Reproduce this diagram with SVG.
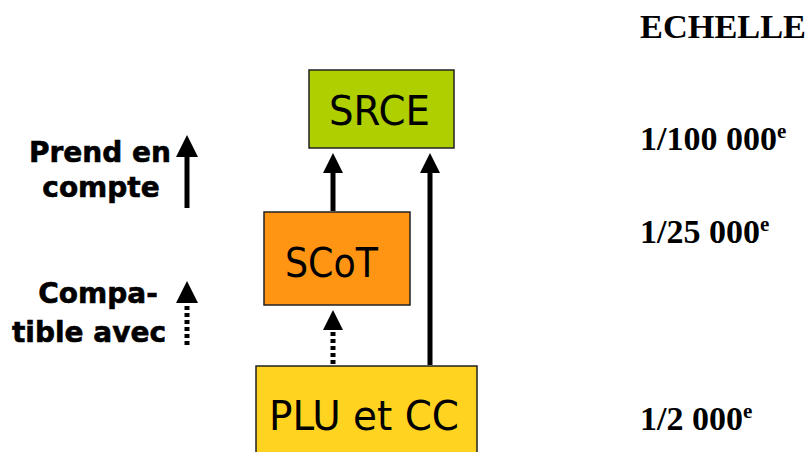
<svg xmlns="http://www.w3.org/2000/svg" width="807" height="452" viewBox="0 0 807 452">
<defs>
<style>
.box{stroke:#222;stroke-width:1.5}
.lbl{font-family:"DejaVu Sans",Verdana,sans-serif;font-size:40px;fill:#000}
.leg{font-family:"DejaVu Sans","Liberation Sans",sans-serif;font-weight:bold;font-size:28px;fill:#000;stroke:#000;stroke-width:0.6}
.sc{font-family:"Liberation Serif","Times New Roman",serif;font-weight:bold;font-size:34px;fill:#000}
.sup{font-size:21px}
.solid{stroke:#000;stroke-width:5;fill:none}
.dot{stroke:#000;stroke-width:5;fill:none;stroke-dasharray:4 3}
</style>
<marker id="ah" markerUnits="userSpaceOnUse" viewBox="0 0 20 20" markerWidth="20" markerHeight="20" refX="0" refY="10" orient="auto">
<path d="M0,0 L20,10 L0,20 Z" fill="#000"/>
</marker>
<marker id="ahL" markerUnits="userSpaceOnUse" viewBox="0 0 22 22" markerWidth="22" markerHeight="22" refX="0" refY="11" orient="auto">
<path d="M0,0 L22,11 L0,22 Z" fill="#000"/>
</marker>
</defs>
<rect width="807" height="452" fill="#fff"/>

<g id="connectors">
<line class="solid" x1="333" y1="211" x2="333" y2="173" marker-end="url(#ah)"/>
<line class="solid" x1="430" y1="365" x2="430" y2="173" marker-end="url(#ah)"/>
<line class="dot" x1="333" y1="364" x2="333" y2="330" marker-end="url(#ah)"/>
</g>

<g id="srce">
<rect class="box" x="309" y="70" width="145" height="78" fill="#AFCF00"/>
<text class="lbl" x="329" y="125" textLength="101" lengthAdjust="spacingAndGlyphs">SRCE</text>
</g>
<g id="scot">
<rect class="box" x="264" y="212" width="146" height="93" fill="#FF9512"/>
<text class="lbl" x="285" y="277" textLength="93" lengthAdjust="spacingAndGlyphs">SCoT</text>
</g>
<g id="plu">
<rect class="box" x="256" y="366" width="221" height="100" fill="#FFD320"/>
<text class="lbl" x="269" y="430" textLength="190" lengthAdjust="spacingAndGlyphs">PLU et CC</text>
</g>

<g id="legend-prend">
<text class="leg" x="100" y="162" text-anchor="middle">Prend en</text>
<text class="leg" x="101" y="197" text-anchor="middle">compte</text>
<line class="solid" x1="187" y1="208" x2="187" y2="157" marker-end="url(#ahL)"/>
</g>
<g id="legend-compatible">
<text class="leg" x="98" y="303" text-anchor="middle">Compa-</text>
<text class="leg" x="89" y="342" text-anchor="middle">tible avec</text>
<line class="dot" x1="187" y1="345" x2="187" y2="303" marker-end="url(#ahL)"/>
</g>

<g id="echelle">
<text class="sc" x="640" y="38" font-size="35" textLength="166" lengthAdjust="spacingAndGlyphs">ECHELLE</text>
<text class="sc" x="640" y="150">1/100 000<tspan class="sup" dy="-12">e</tspan></text>
<text class="sc" x="640" y="243">1/25 000<tspan class="sup" dy="-12">e</tspan></text>
<text class="sc" x="640" y="430">1/2 000<tspan class="sup" dy="-12">e</tspan></text>
</g>
</svg>
